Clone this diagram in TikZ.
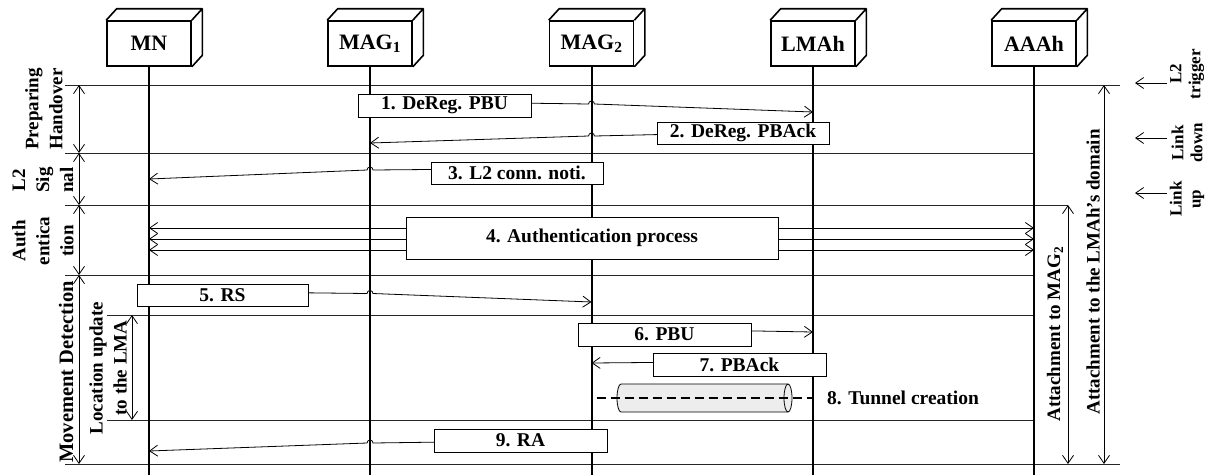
\documentclass[tikz,border=0pt]{standalone}
\usepackage{fontspec}
\setmainfont{Liberation Serif}
\usetikzlibrary{arrows.meta,calc}

% message line with a small hop over a lifeline: start, hop point, end
\newcommand\hopright[3]{\draw[msg] (#1) -- ([xshift=-3pt]#2) arc[start angle=180,end angle=0,radius=3pt] -- (#3);}
\newcommand\hopleft[3]{\draw[msg] (#1) -- ([xshift=3pt]#2) arc[start angle=0,end angle=180,radius=3pt] -- (#3);}
% back faces of a 3D entity box
\newcommand\entitydepth[1]{\draw[line width=1.6pt,line join=round] (#1.north west) -- ++(10.5,-11.5) -| ($(#1.south east)+(10.5,-11.5)$) -- (#1.south east) (#1.north east) -- ++(10.5,-11.5);}

\begin{document}
\begin{tikzpicture}[x=1pt,y=-1pt,
  >={Straight Barb[length=8pt,width=11pt]},
  entity/.style={draw,line width=1.6pt,minimum width=84pt,minimum height=45pt,inner sep=0pt,
    font=\fontsize{22}{26}\selectfont\bfseries,fill=white},
  life/.style={line width=2pt},
  lifethin/.style={line width=1.2pt},
  sepline/.style={line width=0.9pt,black!85},
  msg/.style={line width=0.8pt,->},
  lbl/.style={draw,line width=0.8pt,fill=white,inner sep=0pt,
    font=\fontsize{19.5}{23}\selectfont\bfseries},
  phase/.style={<->,line width=0.8pt},
  side/.style={rotate=90,align=center,font=\fontsize{19}{24}\selectfont\bfseries,inner sep=0pt},
  trig/.style={rotate=90,align=center,font=\fontsize{17}{19}\selectfont\bfseries,inner sep=0pt},
]
\useasboundingbox[fill=white] (0,0) rectangle (1215,475);

% ---- phase separators
\coordinate (s1a) at (65,85);   \coordinate (s1b) at (1120,85);
\coordinate (s2a) at (65,153);  \coordinate (s2b) at (1034,153);
\coordinate (s3a) at (65,205);  \coordinate (s3b) at (1068,205);
\coordinate (s4a) at (65,275);  \coordinate (s4b) at (1034,275);
\coordinate (s5a) at (107,315); \coordinate (s5b) at (1034,315);
\coordinate (s6a) at (107,420); \coordinate (s6b) at (1034,420);
\coordinate (s7a) at (65,464);  \coordinate (s7b) at (1120,464);
\foreach \s in {1,...,7} \draw[sepline] (s\s a) -- (s\s b);

% ---- phase extents on the left
\coordinate (p1) at (79,85);  \coordinate (p2) at (79,153); \coordinate (p3) at (79,205);
\coordinate (p4) at (79,275); \coordinate (p5) at (79,464);
\draw[phase] (p1) -- (p2);
\draw[phase] (p2) -- (p3);
\draw[phase] (p3) -- (p4);
\draw[phase] (p4) -- (p5);
\coordinate (q1) at (132,315); \coordinate (q2) at (132,420);
\draw[phase] (q1) -- (q2);

\node[side] (lprep) at (44,109) {Preparing\\Handover};
\node[side] (lsig) at (43,180) {L2\\Sig\\nal};
\node[side] (lauth) at (43,241) {Auth\\entica\\tion};
\node[side,font=\fontsize{20.5}{24}\selectfont\bfseries] (lmove) at (66,372) {Movement Detection};
\node[side] (lloc) at (108,368) {Location update\\to the LMA};

% ---- entities and lifelines
\coordinate (bot) at (0,475);
\node[entity] (MN) at (149,43.5) {MN};
\node[entity] (MAGa) at (370,43.5) {MAG\textsubscript{1}};
\node[entity] (MAGb) at (591.5,43.5) {MAG\textsubscript{2}};
\node[entity] (LMA) at (813,43.5) {LMAh};
\node[entity] (AAA) at (1034,43.5) {AAAh};
\foreach \e in {MN,MAGa,MAGb,LMA,AAA} {\entitydepth{\e}}
\draw[life] (MN.south) -- (MN.south |- bot);
\draw[life] (MAGa.south) -- (MAGa.south |- bot);
\draw[life] (MAGb.south) -- (MAGb.south |- bot);
\draw[life] (LMA.south) -- (LMA.south |- bot);
\draw[lifethin] (AAA.south) -- (AAA.south |- bot);

% ---- 1. / 2. de-registration
\coordinate (m1s) at (370,101);   \coordinate (m1h) at (591.5,104); \coordinate (m1e) at (813,112);
\hopright{m1s}{m1h}{m1e}
\coordinate (m2s) at (813,131);   \coordinate (m2h) at (591.5,136); \coordinate (m2e) at (370,143);
\hopleft{m2s}{m2h}{m2e}
\node[lbl,minimum width=173pt,minimum height=23pt] (l1) at (444.5,105.5) {1. DeReg. PBU};
\node[lbl,minimum width=172pt,minimum height=22pt] (l2) at (743,133) {2. DeReg. PBAck};

% ---- 3. L2 connection notification
\coordinate (m3s) at (591.5,168); \coordinate (m3h) at (370,170);   \coordinate (m3e) at (149,179);
\hopleft{m3s}{m3h}{m3e}
\node[lbl,minimum width=172pt,minimum height=22pt] (l3) at (517,173) {3. L2 conn. noti.};

% ---- 4. authentication exchange
\foreach \y/\n in {228/a,239/b,250/c} {
  \coordinate (au\n s) at (149,\y); \coordinate (au\n e) at (1034,\y);
  \draw[line width=0.8pt,<->] (au\n s) -- (au\n e);
}
\node[lbl,minimum width=372pt,minimum height=42pt] (l4) at (592,238) {4. Authentication process};

% ---- 5. router solicitation
\coordinate (m5s) at (149,291);   \coordinate (m5h) at (370,293.5); \coordinate (m5e) at (591.5,302);
\hopright{m5s}{m5h}{m5e}
\node[lbl,minimum width=171pt,minimum height=22pt] (l5) at (222.5,295) {5. RS};

% ---- 6. / 7. proxy binding
\coordinate (m6s) at (591.5,328); \coordinate (m6e) at (813,332);
\draw[msg] (m6s) -- (m6e);
\node[lbl,minimum width=173pt,minimum height=23pt] (l6) at (664.5,334.5) {6. PBU};
\coordinate (m7s) at (813,361);   \coordinate (m7e) at (591.5,363);
\draw[msg] (m7s) -- (m7e);
\node[lbl,minimum width=173pt,minimum height=23pt] (l7) at (739.5,364.5) {7. PBAck};

% ---- 8. tunnel
\draw[line width=0.8pt,fill=black!7] (621,384) -- (788,384)
  arc[start angle=90,end angle=-90,x radius=4pt,y radius=14pt] -- (621,412)
  arc[start angle=270,end angle=90,x radius=4pt,y radius=14pt] -- cycle;
\draw[line width=0.8pt] (788,384) arc[start angle=90,end angle=270,x radius=4pt,y radius=14pt];
\coordinate (t1) at (591.5,398); \coordinate (t2) at (813,398);
\draw[line width=2pt,dash pattern=on 9pt off 5pt,shorten <=5pt] (t1) -- (t2);
\node[anchor=west,inner sep=0pt,font=\fontsize{19.5}{23}\selectfont\bfseries] (l8) at (827,398) {8. Tunnel creation};

% ---- 9. router advertisement
\coordinate (m9s) at (591.5,440); \coordinate (m9h) at (370,443);   \coordinate (m9e) at (149,451);
\hopleft{m9s}{m9h}{m9e}
\node[lbl,minimum width=173pt,minimum height=23pt] (l9) at (520.5,440.5) {9. RA};

% ---- attachment extents on the right
\coordinate (r1a) at (1068,205); \coordinate (r1b) at (1068,464);
\draw[phase] (r1a) -- (r1b);
\coordinate (r2a) at (1104,85);  \coordinate (r2b) at (1104,464);
\draw[phase] (r2a) -- (r2b);
\node[side] (latt1) at (1055,334) {Attachment to MAG\textsubscript{2}};
\node[side] (latt2) at (1093,272) {Attachment to the LMAh’s domain};

% ---- link-layer triggers
\coordinate (g1a) at (1167,83);  \coordinate (g1b) at (1135,83);
\coordinate (g2a) at (1167,138); \coordinate (g2b) at (1135,138);
\coordinate (g3a) at (1167,193); \coordinate (g3b) at (1135,193);
\draw[msg] (g1a) -- (g1b);
\draw[msg] (g2a) -- (g2b);
\draw[msg] (g3a) -- (g3b);
\node[trig] (tg1) at (1187,74) {L2\\trigger};
\node[trig] (tg2) at (1187,143) {Link\\down};
\node[trig] (tg3) at (1187,199) {Link\\up};
\end{tikzpicture}
\end{document}
